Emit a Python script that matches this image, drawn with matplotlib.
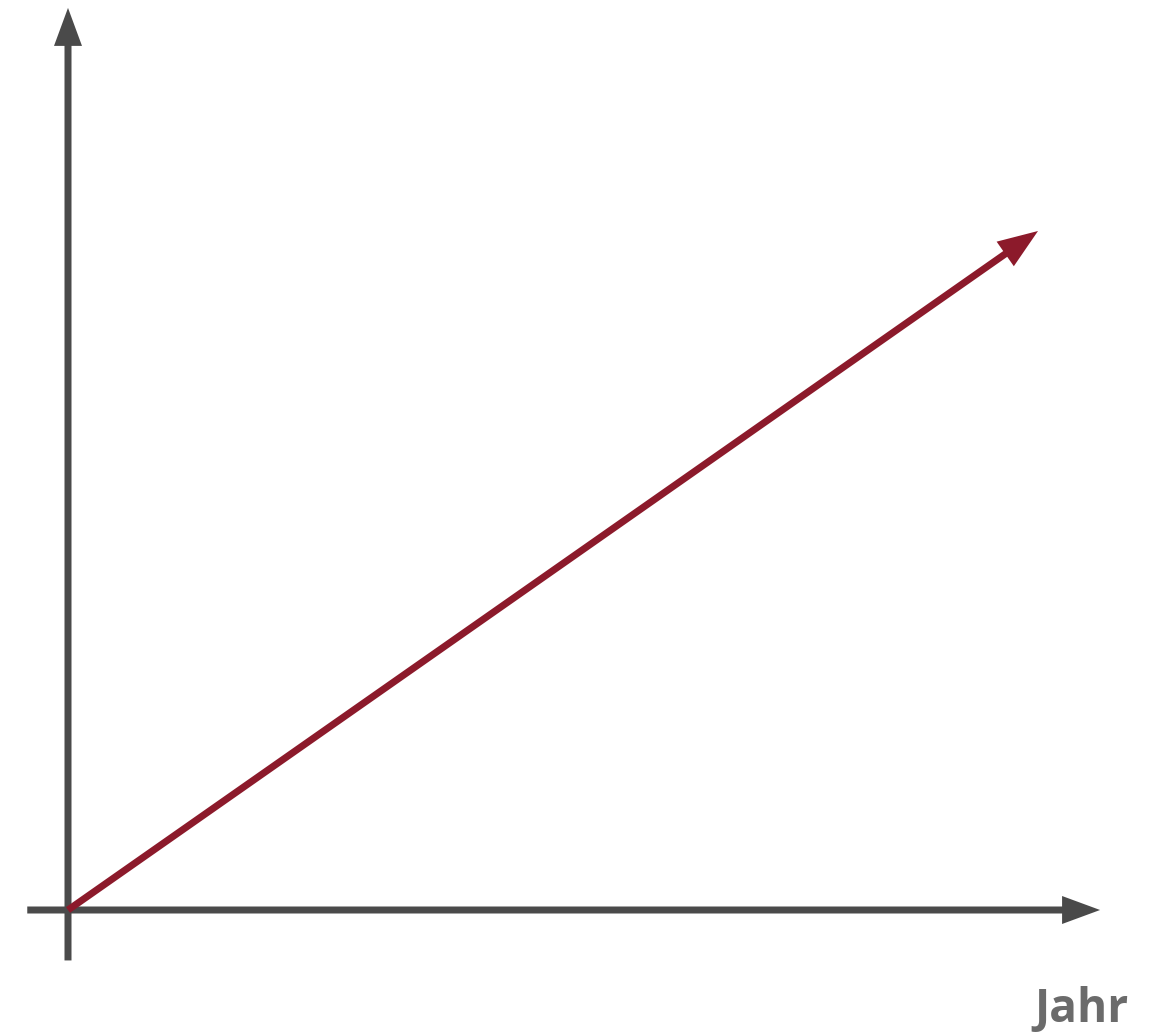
import matplotlib
matplotlib.use('Agg')
from matplotlib import pyplot as plt

# trend line (years vs. value), axes extents in the same units
trend_x = [0, 10]
trend_y = [0, 7]
x_axis = [-0.42, 10.64]
y_axis = [-0.52, 9.30]
x_label = 'Jahr'

gray = '#4a4a4a'
red = '#8c1a2b'

W, H = 1162, 1032
s = 97.0          # pixels per unit
ox, oy = 68, 910  # origin in pixels

fig = plt.figure(figsize=(W / 100, H / 100), dpi=100)
ax = fig.add_axes([0, 0, 1, 1])
ax.set_xlim(-ox / s, (W - ox) / s)
ax.set_ylim(-(H - oy) / s, oy / s)
ax.axis('off')

lw = 7 / s
hw = 28 / s
hl = 38 / s

# x axis
ax.arrow(x_axis[0], 0, x_axis[1] - x_axis[0], 0, width=lw, head_width=hw,
         head_length=hl, length_includes_head=True, color=gray, lw=0)
# y axis
ax.arrow(0, y_axis[0], 0, y_axis[1] - y_axis[0], width=lw, head_width=hw,
         head_length=hl, length_includes_head=True, color=gray, lw=0)
# trend
ax.arrow(trend_x[0], trend_y[0], trend_x[1] - trend_x[0], trend_y[1] - trend_y[0],
         width=lw, head_width=30 / s, head_length=40 / s,
         length_includes_head=True, color=red, lw=0, zorder=3)

ax.text((1129 - ox) / s, -(1022 - oy) / s, x_label, ha='right', va='baseline',
        fontsize=33, fontweight='bold', color='#6b6b6b', family='Open Sans')

plt.savefig('out.png', dpi=100)
